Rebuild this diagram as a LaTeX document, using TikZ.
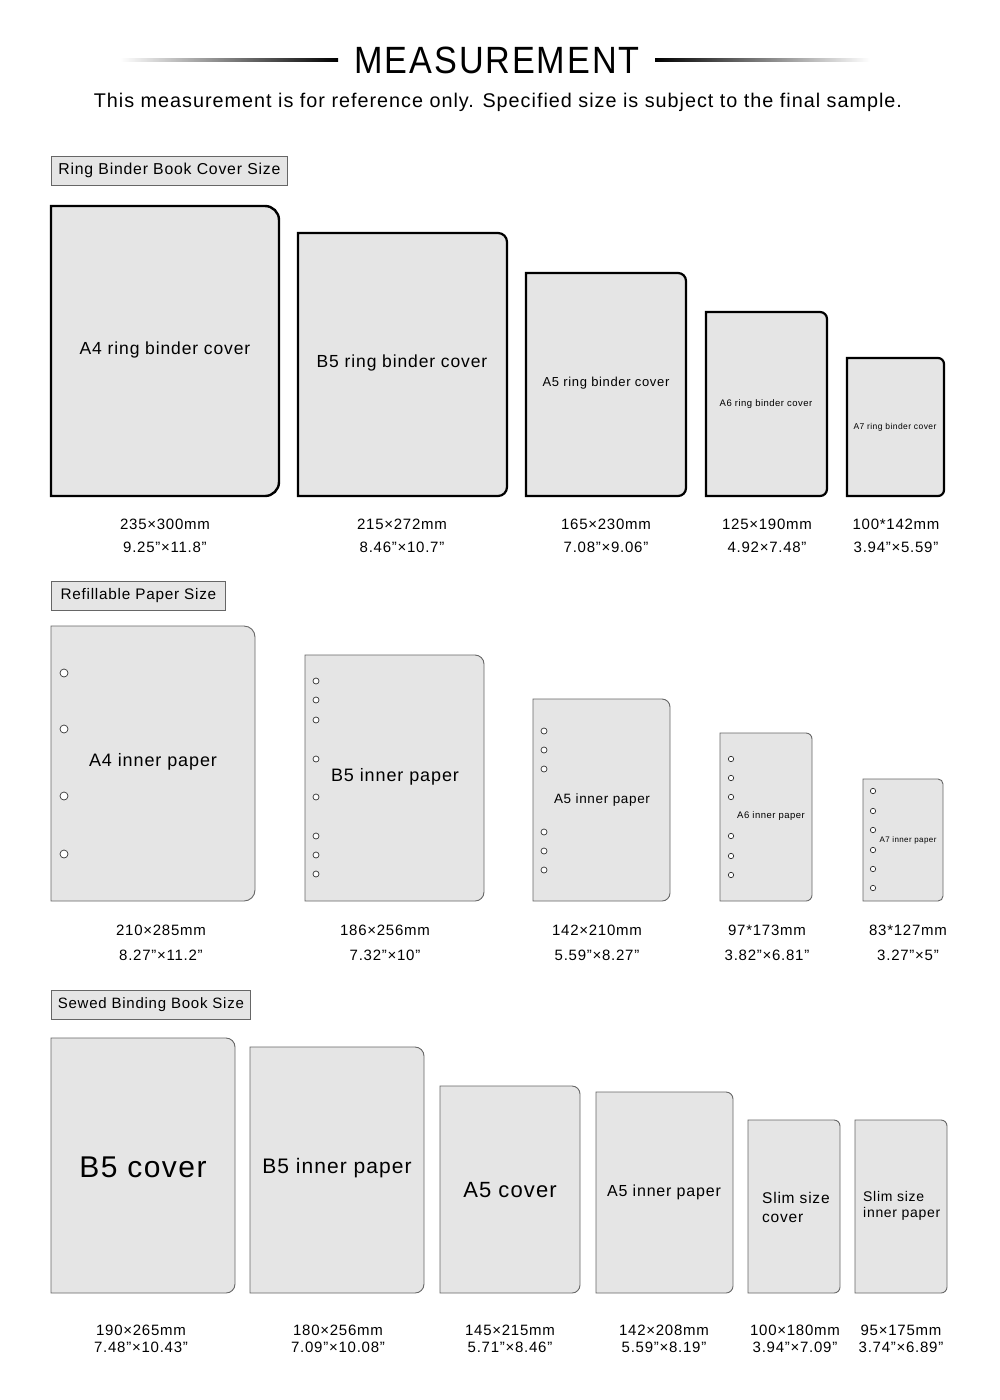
\documentclass[tikz,border=0pt]{standalone}
\usepackage{fontspec}
\setmainfont{Liberation Sans}[LetterSpace=5]
\begin{document}
\begin{tikzpicture}[x=1pt,y=-1pt,
  hdr/.style={draw=black!60,fill=black!10,line width=0.8pt,anchor=west,inner sep=0pt,minimum height=29pt,font=\fontsize{15.8}{16}\selectfont},
  dim/.style={font=\fontsize{15}{15}\selectfont},
  hole/.style={draw=black!80,fill=white,line width=0.7pt}]
\useasboundingbox (0,0) rectangle (999,1400);
\fill[white] (0,0) rectangle (999,1400);
% title
\shade[left color=white,right color=black] (120,58.5) rectangle (338,61.5);
\shade[left color=black,right color=white] (655,58.5) rectangle (870,61.5);
\node (title) at (497,60) {\fontsize{38}{38}\selectfont\addfontfeature{FakeStretch=0.9}MEASUREMENT};
\node (sub) at (498,102) {\fontsize{19.8}{21}\selectfont This measurement is for reference only. Specified size is subject to the final sample.};
\newcommand\bk[6]{% x1 y1 x2 y2 r style
  \draw[fill=black!10,#6] ({(#1+#3)/2},#4) -- (#1,#4) -- (#1,#2) -- ({(#1+#3)/2},#2) [rounded corners=#5] -- (#3,#2) -- (#3,#4) -- cycle;}
% section 1
\node[hdr,minimum width=236pt] (h1) at (51,170.5) {Ring Binder Book Cover Size};
\bk{51}{206}{279}{496}{14}{line width=2.4pt}
\bk{298}{233}{507}{496}{9}{line width=2.2pt}
\bk{526}{273}{686}{496}{8}{line width=2.2pt}
\bk{706}{312}{827}{496}{7}{line width=2.2pt}
\bk{847}{358}{944}{496}{6}{line width=2.2pt}
\node (r1) at (165,350) {\fontsize{17.5}{17}\selectfont A4 ring binder cover};
\node (r2) at (402,363) {\fontsize{17.5}{17}\selectfont B5 ring binder cover};
\node (r3) at (606,383) {\fontsize{13}{13}\selectfont A5 ring binder cover};
\node (r4) at (766,404) {\fontsize{9.5}{10}\selectfont A6 ring binder cover};
\node (r5) at (895,427) {\fontsize{8.5}{9}\selectfont A7 ring binder cover};
\foreach \x/\a/\b in {165/235×300mm/9.25"×11.8",402/215×272mm/8.46"×10.7",606/165×230mm/7.08"×9.06",767/125×190mm/4.92×7.48",896/100*142mm/3.94"×5.59"}{
  \node[dim] at (\x,524) {\a}; \node[dim] at (\x,547) {\b};}
% section 2
\node[hdr,minimum width=174pt,font=\fontsize{15.3}{16}\selectfont] (h2) at (51,595.5) {Refillable Paper Size};
\bk{51}{626}{255}{901}{11}{draw=black!60,line width=0.9pt}
\bk{305}{655}{484}{901}{9}{draw=black!60,line width=0.9pt}
\bk{533}{699}{670}{901}{8}{draw=black!60,line width=0.9pt}
\bk{720}{733}{812}{901}{6}{draw=black!60,line width=0.9pt}
\bk{863}{779}{943}{901}{5}{draw=black!60,line width=0.9pt}
\foreach \y in {673,729,796,854} \draw[hole] (64,\y) circle (4);
\foreach \y in {681,700,720,759,797,836,855,874} \draw[hole] (316,\y) circle (3);
\foreach \y in {731,750,769,832,851,870} \draw[hole] (544,\y) circle (3);
\foreach \y in {759,778,797,836,856,875} \draw[hole] (731,\y) circle (2.7);
\foreach \y in {791,811,830,850,869,888} \draw[hole] (873,\y) circle (2.7);
\node (p1) at (153,762) {\fontsize{18}{18}\selectfont A4 inner paper};
\node (p2) at (395,777) {\fontsize{18}{18}\selectfont B5 inner paper};
\node (p3) at (602,800) {\fontsize{13.5}{14}\selectfont A5 inner paper};
\node (p4) at (771,816) {\fontsize{9.5}{10}\selectfont A6 inner paper};
\node (p5) at (908,840) {\fontsize{8}{8}\selectfont A7 inner paper};
\foreach \x/\a/\b in {161/210×285mm/8.27"×11.2",385/186×256mm/7.32"×10",597/142×210mm/5.59"×8.27",767/97*173mm/3.82"×6.81",908/83*127mm/3.27"×5"}{
  \node[dim] at (\x,930) {\a}; \node[dim] at (\x,955) {\b};}
% section 3
\node[hdr,minimum width=199pt,font=\fontsize{15}{16}\selectfont] (h3) at (51,1005) {Sewed Binding Book Size};
\bk{51}{1038}{235}{1293}{9}{draw=black!60,line width=0.9pt}
\bk{250}{1047}{424}{1293}{9}{draw=black!60,line width=0.9pt}
\bk{440}{1086}{580}{1293}{8}{draw=black!60,line width=0.9pt}
\bk{596}{1092}{733}{1293}{7}{draw=black!60,line width=0.9pt}
\bk{748}{1120}{840}{1293}{6}{draw=black!60,line width=0.9pt}
\bk{855}{1120}{947}{1293}{6}{draw=black!60,line width=0.9pt}
\node (s1) at (143,1167) {\fontsize{30}{30}\selectfont B5 cover};
\node (s2) at (337,1168) {\fontsize{21}{21}\selectfont B5 inner paper};
\node (s3) at (510,1190) {\fontsize{22}{22}\selectfont A5 cover};
\node (s4) at (664,1192) {\fontsize{16}{16}\selectfont A5 inner paper};
\node[anchor=west,align=left,inner sep=0pt,font=\fontsize{15.5}{19}\selectfont] (s5) at (762,1207) {Slim size\\cover};
\node[anchor=west,align=left,inner sep=0pt,font=\fontsize{14}{16.5}\selectfont] (s6) at (863,1206) {Slim size\\inner paper};
\foreach \x/\a/\b in {141/190×265mm/7.48"×10.43",338/180×256mm/7.09"×10.08",510/145×215mm/5.71"×8.46",664/142×208mm/5.59"×8.19",795/100×180mm/3.94"×7.09",901/95×175mm/3.74"×6.89"}{
  \node[dim] at (\x,1330) {\a}; \node[dim] at (\x,1347) {\b};}
\end{tikzpicture}
\end{document}
